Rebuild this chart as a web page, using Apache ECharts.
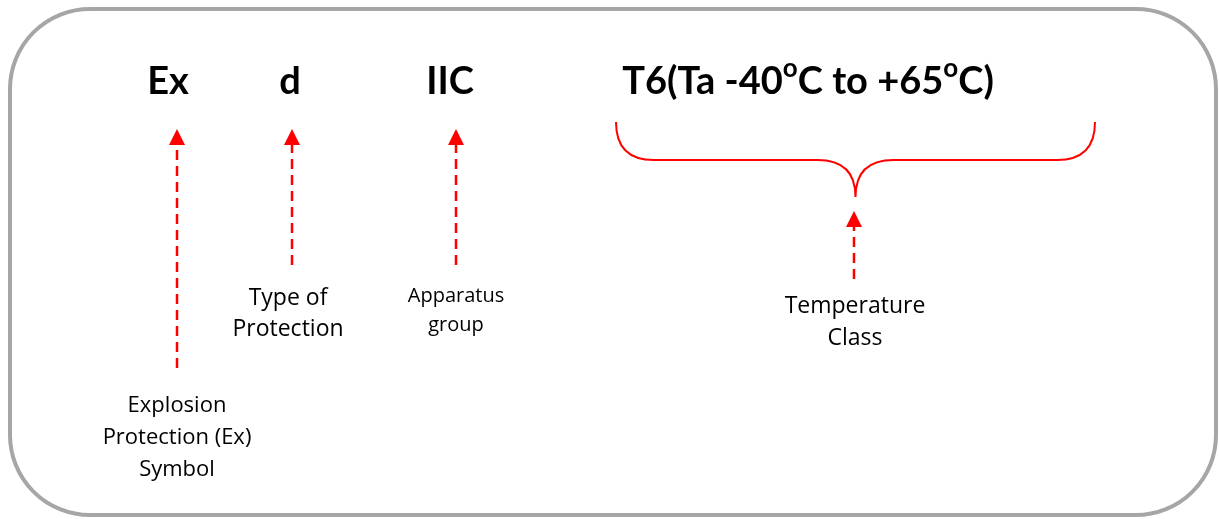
<!DOCTYPE html>
<html>
<head>
<meta charset="utf-8">
<script src="https://cdn.jsdelivr.net/npm/echarts@6/dist/echarts.min.js"></script>
<style>
    html, body {margin: 0; padding: 0; background: #fff;}
    #main {width: 1219px; height: 519px;}
</style>
</head>
<body>
<div id="main"></div>
<script>
// marking parts and what they mean
var codes = ['Ex', 'd', 'IIC', 'T6(Ta -40{sup|o}C to +65{sup|o}C)'];
var codeX = [168, 290, 450, 808];
var codeY = 82;
var meanings = ['Explosion\nProtection (Ex)\nSymbol', 'Type of\nProtection', 'Apparatus\ngroup', 'Temperature\nClass'];
var meaningX = [177, 288, 456, 855];
var meaningY = [438, 314, 311, 322];
var meaningSize = [22, 23, 20, 23];
var meaningLine = [32, 31, 29, 32];
// dashed arrows: x, tip y, tail y
var arrowX = [177, 292, 456, 854];
var arrowTip = [129, 129, 129, 211];
var arrowTail = [368, 265, 265, 279];
// brace over the temperature text: left, right / top, middle, cusp
var braceX = [616, 1095];
var braceY = [122, 160, 197];

var RED = '#ff0000';
var BOLD_FONT = 'Lato, "Open Sans", sans-serif';
var FONT = '"Open Sans", Lato, sans-serif';

var chart = echarts.init(document.getElementById('main'));

var codeData = codes.map(function (c, i) { return [codeX[i], codeY, i]; });
var meaningData = meanings.map(function (m, i) { return [meaningX[i], meaningY[i], i]; });
var arrowData = arrowX.map(function (x, i) { return [x, arrowTip[i], arrowTail[i]]; });

chart.setOption({
    animation: false,
    grid: {left: 0, right: 0, top: 0, bottom: 0},
    xAxis: {type: 'value', min: 0, max: 1219, show: false},
    yAxis: {type: 'value', min: 0, max: 519, inverse: true, show: false},
    graphic: [{
        type: 'rect',
        shape: {x: 10, y: 9, width: 1206, height: 506, r: 80},
        style: {fill: 'none', stroke: '#a6a6a6', lineWidth: 4},
        z: 1
    }],
    series: [
        {
            type: 'custom',
            name: 'codes',
            data: codeData,
            renderItem: function (params, api) {
                var p = api.coord([api.value(0), api.value(1)]);
                return {
                    type: 'text',
                    x: p[0], y: p[1],
                    style: {
                        text: codes[api.value(2)],
                        fill: '#000',
                        font: 'bold 38px ' + BOLD_FONT,
                        align: 'center',
                        verticalAlign: 'middle',
                        rich: {
                            sup: {fontSize: 26, fontWeight: 'bold', fontFamily: BOLD_FONT, fill: '#000', padding: [0, 0, 26, 0]}
                        }
                    }
                };
            }
        },
        {
            type: 'custom',
            name: 'meanings',
            data: meaningData,
            renderItem: function (params, api) {
                var p = api.coord([api.value(0), api.value(1)]);
                var i = api.value(2);
                return {
                    type: 'text',
                    x: p[0], y: p[1],
                    style: {
                        text: meanings[i],
                        fill: '#000',
                        font: meaningSize[i] + 'px ' + FONT,
                        lineHeight: meaningLine[i],
                        align: 'center',
                        verticalAlign: 'middle'
                    }
                };
            }
        },
        {
            type: 'custom',
            name: 'arrows',
            data: arrowData,
            renderItem: function (params, api) {
                var tip = api.coord([api.value(0), api.value(1)]);
                var tail = api.coord([api.value(0), api.value(2)]);
                var head = 16;
                return {
                    type: 'group',
                    children: [{
                        type: 'line',
                        shape: {x1: tail[0], y1: tail[1], x2: tip[0], y2: tip[1] + head},
                        style: {stroke: RED, lineWidth: 2.5, lineDash: [10, 6]}
                    }, {
                        type: 'polygon',
                        shape: {points: [[tip[0], tip[1]], [tip[0] - 8, tip[1] + head], [tip[0] + 8, tip[1] + head]]},
                        style: {fill: RED}
                    }]
                };
            }
        },
        {
            type: 'custom',
            name: 'brace',
            data: [[braceX[0], braceX[1]]],
            renderItem: function (params, api) {
                var a = api.coord([api.value(0), braceY[0]]);
                var b = api.coord([api.value(1), braceY[1]]);
                var m = api.coord([(api.value(0) + api.value(1)) / 2, braceY[2]]);
                var r = b[1] - a[1];
                var x0 = a[0], x1 = b[0], cx = m[0], top = a[1], mid = b[1], cusp = m[1];
                var path = 'M' + x0 + ',' + top +
                    'Q' + x0 + ',' + mid + ' ' + (x0 + r) + ',' + mid +
                    'L' + (cx - r) + ',' + mid +
                    'Q' + cx + ',' + mid + ' ' + cx + ',' + cusp +
                    'Q' + cx + ',' + mid + ' ' + (cx + r) + ',' + mid +
                    'L' + (x1 - r) + ',' + mid +
                    'Q' + x1 + ',' + mid + ' ' + x1 + ',' + top;
                return {
                    type: 'path',
                    shape: {pathData: path},
                    style: {fill: 'none', stroke: RED, lineWidth: 2}
                };
            }
        }
    ]
});
</script>
</body>
</html>
